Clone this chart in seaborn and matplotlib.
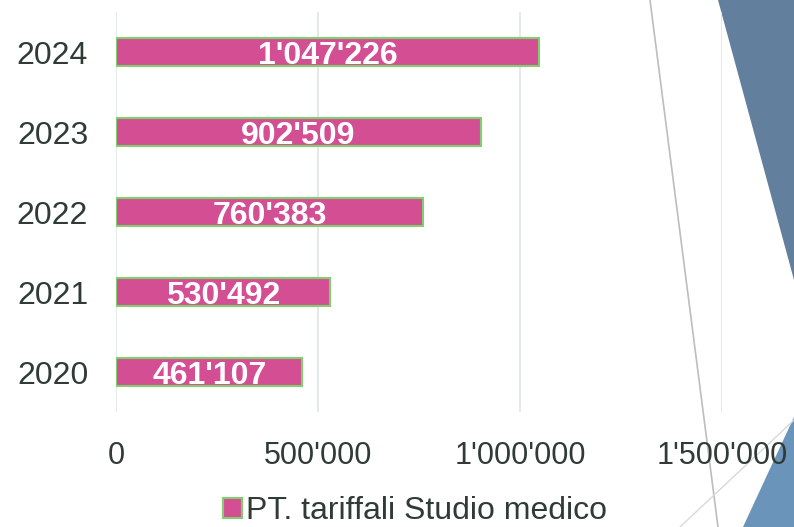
import matplotlib
matplotlib.use("Agg")
import matplotlib.pyplot as plt
import seaborn as sns
import pandas as pd
from matplotlib.patches import Polygon
from matplotlib.lines import Line2D

years = ["2024", "2023", "2022", "2021", "2020"]
values = [1047226, 902509, 760383, 530492, 461107]
series_name = "PT. tariffali Studio medico"
x_ticks = [0, 500000, 1000000, 1500000]

def fmt(v):
    return f"{int(v):,}".replace(",", "'")

df = pd.DataFrame({"Anno": years, "Valore": values, "Serie": [series_name] * len(years)})

sns.set_theme(style="white")
plt.rcParams["font.family"] = ["Liberation Sans", "DejaVu Sans"]

text_col = "#2f3b34"
bar_col = "#d44e94"
edge_col = "#7fcf6f"

fig = plt.figure(figsize=(7.94, 5.27), dpi=100)
fig.patch.set_facecolor("white")

# decorative background shapes
fig.add_artist(Polygon([[718/794, 1], [1, 1], [1, 1 - 280/527]], closed=True,
                       transform=fig.transFigure, facecolor="#62809e", edgecolor="none", zorder=0))
fig.add_artist(Polygon([[1, 1 - 417/527], [743/794, 0], [1, 0]], closed=True,
                       transform=fig.transFigure, facecolor="#6a94ba", edgecolor="none", zorder=0))
fig.add_artist(Line2D([650/794, 718/794], [1, 0], transform=fig.transFigure,
                      color="#bdbdbd", lw=1.2, zorder=0))
fig.add_artist(Line2D([680/794, 1], [0, 1 - 420/527], transform=fig.transFigure,
                      color="#d9d9d9", lw=1.0, zorder=0))

ax = fig.add_axes([116/794, 1 - 412/527, (722 - 116)/794, 400/527])
ax.set_facecolor("none")

sns.barplot(data=df, y="Anno", x="Valore", hue="Serie", order=years,
            palette=[bar_col], saturation=1, width=0.35, orient="h", ax=ax,
            edgecolor=edge_col, linewidth=1.5, zorder=3)

for cont in ax.containers:
    anns = ax.bar_label(cont, labels=[fmt(v) for v in cont.datavalues], label_type="center",
                        color="white", fontweight="bold", fontsize=23, zorder=4)
    for t in anns:
        t.set_va("center_baseline")

ax.set_xlim(0, 1500000)
ax.set_ylim(4.5, -0.5)
ax.set_xticks(x_ticks)
ax.set_xticklabels([fmt(v) for v in x_ticks])
ax.xaxis.grid(True, color="#dde6e6", lw=1.2, zorder=0)
ax.yaxis.grid(False)
for s in ax.spines.values():
    s.set_visible(False)
ax.tick_params(axis="x", length=0, pad=21, labelsize=22, labelcolor=text_col)
ax.tick_params(axis="y", length=0, pad=20, labelsize=23, labelcolor=text_col)
ax.set_xlabel("")
ax.set_ylabel("")

leg = ax.get_legend()
if leg is not None:
    leg.remove()
handles, labels = ax.get_legend_handles_labels()
fig.legend(handles, labels, loc="center", bbox_to_anchor=(415/794, 1 - 511/527),
           frameon=False, fontsize=23, handlelength=0.6, handleheight=0.6,
           handletextpad=0.15, labelcolor=text_col)

fig.savefig("out.png", dpi=100, facecolor="white")
